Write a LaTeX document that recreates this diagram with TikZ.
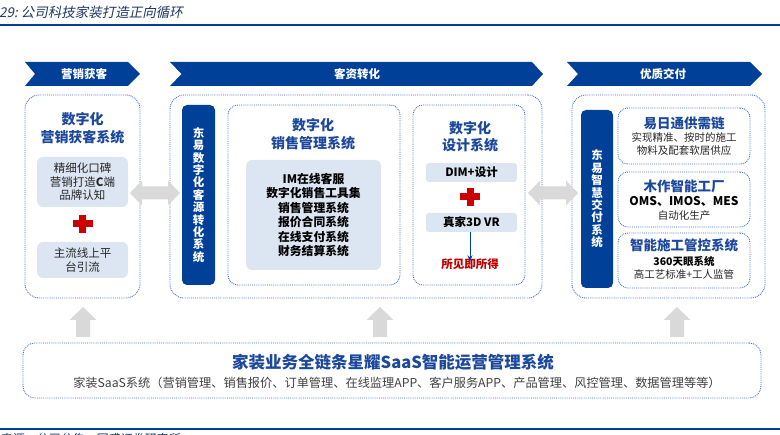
\documentclass[tikz,border=0pt]{standalone}
\usepackage{fontspec}
\setmainfont{Noto Sans CJK SC}
\newfontfamily\slantfont{Noto Sans CJK SC}[FakeSlant=0.2]
\usetikzlibrary{arrows.meta,calc}
\definecolor{navy}{RGB}{0,64,152}
\definecolor{tblue}{RGB}{28,72,156}
\definecolor{lfill}{RGB}{220,230,242}
\definecolor{dotblue}{RGB}{68,114,196}
\definecolor{garrow}{RGB}{217,217,217}
\definecolor{crossred}{RGB}{204,0,0}
\definecolor{txtred}{RGB}{192,0,0}
\definecolor{ttlcol}{RGB}{30,55,100}
\tikzset{
  chev/.style={fill=navy,draw=none},
  hdrtext/.style={font=\fontsize{11.5}{13}\selectfont\bfseries,text=white},
  obox/.style={draw=dotblue,densely dotted,line width=0.9pt,rounded corners=14pt,inner sep=0pt},
  ibox/.style={draw=dotblue,densely dotted,line width=0.9pt,rounded corners=10pt,inner sep=0pt},
  lbox/.style={fill=lfill,draw=none,rounded corners=6pt,inner sep=0pt,align=center,
     font=\fontsize{11.5}{13.5}\selectfont,text=black!85},
  vbar/.style={fill=navy,draw=none,rounded corners=5pt,inner sep=0pt,align=center,
     font=\fontsize{11.5}{12.4}\selectfont\bfseries,text=white},
  btitle/.style={font=\fontsize{14}{17.5}\selectfont\bfseries,text=tblue,align=center},
  body/.style={font=\fontsize{10.5}{13}\selectfont,text=black!85,align=center},
  garr/.style={fill=garrow,draw=none},
  rcross/.style={fill=crossred,draw=none},
}
\newcommand{\redcross}[1]{%
  \fill[rcross] ($(#1)+(-10,-3.5)$) rectangle ($(#1)+(10,3.5)$);
  \fill[rcross] ($(#1)+(-3.5,-9)$) rectangle ($(#1)+(3.5,9)$);}
\newcommand{\dblarrow}[1]{%
  \fill[garr] ($(#1)+(-25,0)$) -- ($(#1)+(-13,-12.5)$) -- ($(#1)+(-13,-6.5)$) -- ($(#1)+(13,-6.5)$)
   -- ($(#1)+(13,-12.5)$) -- ($(#1)+(25,0)$) -- ($(#1)+(13,12.5)$) -- ($(#1)+(13,6.5)$)
   -- ($(#1)+(-13,6.5)$) -- ($(#1)+(-13,12.5)$) -- cycle;}
\newcommand{\uparr}[1]{%
  \fill[garr] ($(#1)+(0,-15)$) -- ($(#1)+(13.5,-2)$) -- ($(#1)+(7,-2)$) -- ($(#1)+(7,15)$)
   -- ($(#1)+(-7,15)$) -- ($(#1)+(-7,-2)$) -- ($(#1)+(-13.5,-2)$) -- cycle;}
\begin{document}
\begin{tikzpicture}[x=1pt,y=-1pt]
\useasboundingbox (0,0) rectangle (780,435);
% title and rules
\node[anchor=west,inner sep=0pt,font=\fontsize{13.5}{15}\selectfont\slantfont,text=ttlcol] (ttl) at (-1,12) {29:\ 公司科技家装打造正向循环};
\draw[navy,line width=1.5pt] (0,25) -- (780,25);
\draw[navy,line width=1.5pt] (0,429) -- (780,429);
\node[anchor=west,inner sep=0pt,font=\fontsize{12}{14}\selectfont\slantfont,text=ttlcol] (src) at (-1,439) {来源：公司公告，国盛证券研究所};

% chevrons
\fill[chev] (25,62) -- (128,62) -- (140,74) -- (128,86) -- (25,86) -- (35,74) -- cycle;
\node[hdrtext] (h1) at (84,74) {营销获客};
\fill[chev] (170,62) -- (532,62) -- (543,74) -- (532,86) -- (170,86) -- (181.5,74) -- cycle;
\node[hdrtext] (h2) at (357,74) {客资转化};
\fill[chev] (567,62) -- (750,62) -- (762,74) -- (750,86) -- (567,86) -- (578,74) -- cycle;
\node[hdrtext] (h3) at (663,74) {优质交付};

% outer boxes
\node[obox,minimum width=115,minimum height=203] (L) at (82.5,196.5) {};
\node[obox,minimum width=372,minimum height=203] (M) at (356,196.5) {};
\node[obox,minimum width=193,minimum height=203] (R) at (668.5,196.5) {};

% left content
\node[btitle] (lt) at (82.5,128) {数字化\\营销获客系统};
\node[lbox,minimum width=91,minimum height=50] (lb1) at (82.5,182) {精细化口碑\\营销打造\textbf{C}端\\品牌认知};
\coordinate (lc) at (82.5,224);
\redcross{lc}
\node[lbox,minimum width=91,minimum height=36] (lb2) at (82.5,260) {主流线上平\\台引流};

% middle content
\node[vbar,minimum width=33,minimum height=180] (mv) at (198.5,195) {东\\易\\数\\字\\化\\客\\源\\转\\化\\系\\统};
\node[ibox,minimum width=172,minimum height=180] (ms) at (314,195) {};
\node[btitle] (mst) at (313,134) {数字化\\销售管理系统};
\node[lbox,minimum width=135,minimum height=110,font=\fontsize{11.8}{14.4}\selectfont\bfseries,text=black] (msl) at (313.5,215)
  {IM在线客服\\数字化销售工具集\\销售管理系统\\报价合同系统\\在线支付系统\\财务结算系统};
\node[ibox,minimum width=112,minimum height=180] (md) at (469,195) {};
\node[btitle] (mdt) at (470,136.5) {数字化\\设计系统};
\node[lbox,minimum width=91,minimum height=19,rounded corners=3pt,font=\fontsize{11.5}{13}\selectfont\bfseries,text=black] (dim) at (471.5,172.5) {DIM+设计};
\coordinate (mc) at (470,197);
\redcross{mc}
\node[lbox,minimum width=91,minimum height=19,rounded corners=3pt,font=\fontsize{11.5}{13}\selectfont\bfseries,text=black] (vr) at (471.5,222.5) {真家3D VR};
\node[font=\fontsize{11.5}{13}\selectfont\bfseries,text=txtred,inner sep=1pt] (sj) at (470,264) {所见即所得};
\draw[navy,line width=0.8pt,-{Stealth[length=6pt,width=5pt]}] (vr.south -| sj.north) -- ([yshift=-4]sj.north);

% right content
\node[vbar,minimum width=32,minimum height=178] (rv) at (597,199) {东\\易\\智\\慧\\交\\付\\系\\统};
\node[ibox,minimum width=132,minimum height=56] (r1) at (684,136) {};
\node[btitle,font=\fontsize{13.5}{16}\selectfont\bfseries] (r1t) at (684,123) {易日通供需链};
\node[body] (r1b) at (684,144.5) {实现精准、按时的施工\\物料及配套软居供应};
\node[ibox,minimum width=132,minimum height=55] (r2) at (684,199.5) {};
\node[btitle,font=\fontsize{13.5}{16}\selectfont\bfseries] (r2t) at (684,186) {木作智能工厂};
\node[font=\fontsize{12}{14}\selectfont\bfseries,text=black] (r2m) at (684,201) {OMS、IMOS、MES};
\node[body] (r2b) at (684,216) {自动化生产};
\node[ibox,minimum width=132,minimum height=55] (r3) at (684,260.5) {};
\node[btitle,font=\fontsize{13.5}{16}\selectfont\bfseries] (r3t) at (684,245) {智能施工管控系统};
\node[body,font=\fontsize{10.5}{13}\selectfont\bfseries,text=black] (r3m) at (684,262) {360天眼系统};
\node[body] (r3b) at (684,274.5) {高工艺标准+工人监管};

% double arrows
\coordinate (da1) at (155,193);
\dblarrow{da1}
\coordinate (da2) at (553,193);
\dblarrow{da2}

% bottom box
\node[obox,rounded corners=12pt,minimum width=738,minimum height=55] (B) at (392,370.5) {};
\node[font=\fontsize{16.5}{18}\selectfont\bfseries,text=tblue] (bt) at (393,362) {家装业务全链条星耀SaaS智能运营管理系统};
\node[font=\fontsize{12.2}{14}\selectfont,text=black!75] (bs) at (397,383) {家装SaaS系统（营销管理、销售报价、订单管理、在线监理APP、客户服务APP、产品管理、风控管理、数据管理等等）};

% up arrows
\coordinate (u1) at (83,322);
\uparr{u1}
\coordinate (u2) at (380,322);
\uparr{u2}
\coordinate (u3) at (677,322);
\uparr{u3}
\end{tikzpicture}
\end{document}
